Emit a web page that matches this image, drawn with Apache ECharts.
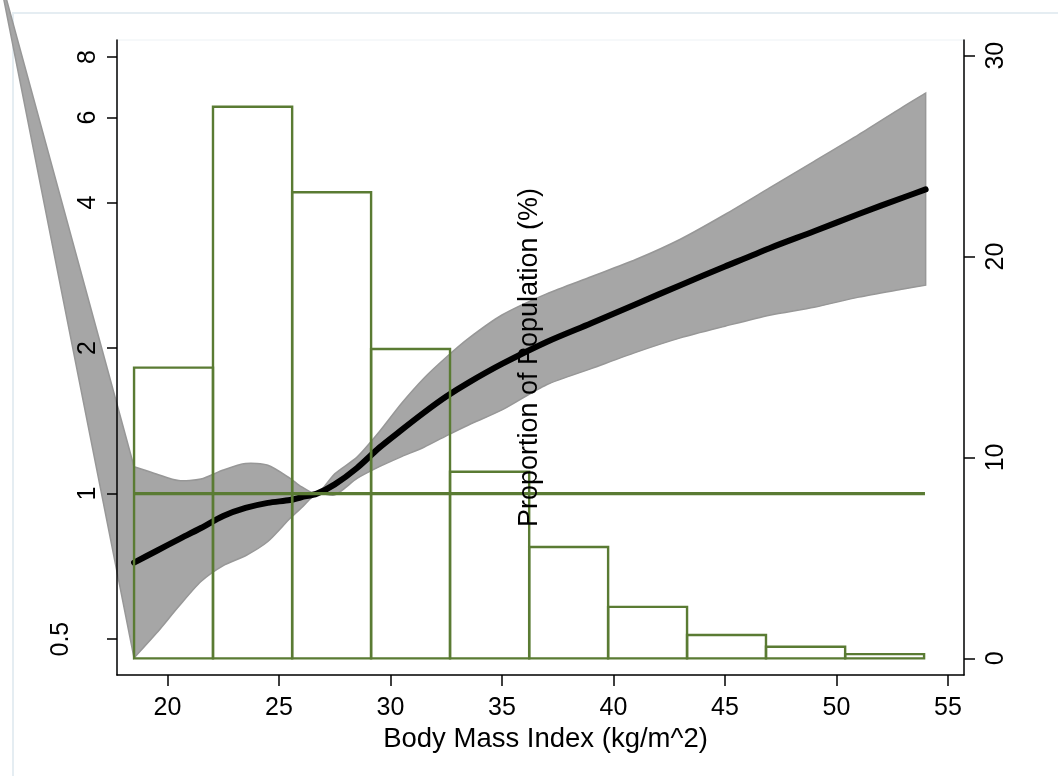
<!DOCTYPE html>
<html>
<head>
<meta charset="utf-8">
<script src="https://cdn.jsdelivr.net/npm/echarts@6/dist/echarts.min.js"></script>
<style>
html,body{margin:0;padding:0;background:#fff;}
#c{width:1058px;height:776px;}
</style>
</head>
<body>
<div id="c"></div>
<script>
// ---------- data ----------
// fitted hazard ratio curve (left, log scale)
const bmi = [18.5, 19.5, 20.5, 21.5, 22.5, 23.5, 24.5, 25.5, 26.0, 26.7, 27.5, 28.5, 29.5, 30.5, 31.5, 32.5, 33.5, 35, 37, 39, 41, 43, 45, 47, 49, 51, 53, 54];
const hr = [0.72, 0.761, 0.804, 0.849, 0.899, 0.934, 0.957, 0.970, 0.983, 1.0, 1.045, 1.13, 1.245, 1.355, 1.471, 1.588, 1.697, 1.855, 2.06, 2.252, 2.466, 2.70, 2.95, 3.22, 3.49, 3.79, 4.10, 4.26];
// confidence band, same BMI points
const ciUpper = [1.137, 1.098, 1.064, 1.072, 1.119, 1.154, 1.145, 1.076, 1.034, 1.0, 1.099, 1.19, 1.343, 1.538, 1.733, 1.915, 2.095, 2.342, 2.59, 2.81, 3.05, 3.36, 3.78, 4.29, 4.87, 5.53, 6.32, 6.74];
const ciLower = [0.457, 0.514, 0.584, 0.658, 0.71, 0.744, 0.796, 0.889, 0.934, 1.0, 0.994, 1.075, 1.137, 1.193, 1.247, 1.317, 1.387, 1.49, 1.68, 1.814, 1.96, 2.10, 2.22, 2.34, 2.43, 2.55, 2.65, 2.70];
// stray off-scale vertex of the original confidence area [BMI, value]
const ciApex = [12.34, 12.5];
// histogram (right axis, % of population)
const binEdges = [18.5, 22.04, 25.59, 29.13, 32.67, 36.22, 39.76, 43.30, 46.84, 50.39, 53.93];
const binPct = [14.47, 27.46, 23.20, 15.40, 9.29, 5.54, 2.56, 1.16, 0.58, 0.21];
// reference line at 1
const refX = [18.5, 53.97];
const refY = [1, 1];
// tick labels
const xTicks = [20, 25, 30, 35, 40, 45, 50, 55];
const leftTicks = [0.5, 1, 2, 4, 6, 8];
const rightTicks = [0, 10, 20, 30];

// ---------- style ----------
const FONT = '"Liberation Sans", Arial, Helvetica, sans-serif';
const GREEN = '#5a7b33';
const BAND = '#a6a6a6';
const BAND_EDGE = '#979797';

const chart = echarts.init(document.getElementById('c'), null, {renderer: 'canvas'});

const axisLineStyle = {color: '#000', width: 1.5};

const option = {
  animation: false,
  backgroundColor: '#ffffff',
  graphic: [{
    type: 'rect', silent: true, z: -10,
    shape: {x: 13, y: 13, width: 1200, height: 1000},
    style: {fill: 'none', stroke: '#e5edf2', lineWidth: 2}
  }],
  grid: {
    left: 117, right: 94, top: 40, bottom: 101,
    containLabel: false, outerBoundsMode: 'none',
    show: true, borderColor: '#edf2f5', borderWidth: 1, backgroundColor: 'transparent'
  },
  xAxis: {
    type: 'value', min: 17.735, max: 55.72, z: 10,
    name: 'Body Mass Index (kg/m^2)', nameLocation: 'middle', nameGap: 64, nameMoveOverlap: false,
    nameTextStyle: {fontFamily: FONT, fontSize: 27.5, color: '#000', verticalAlign: 'middle', padding: [0, 0, 0, 10]},
    axisLine: {show: true, onZero: false, lineStyle: axisLineStyle},
    axisTick: {show: true, length: 11, customValues: xTicks, lineStyle: axisLineStyle},
    axisLabel: {customValues: xTicks, interval: 0, margin: 33, verticalAlign: 'middle', fontSize: 25, color: '#000', fontFamily: FONT},
    splitLine: {show: false}
  },
  yAxis: [{
    type: 'log', logBase: 2, min: 0.4215, max: 8.68, position: 'left', z: 10,
    axisLine: {show: true, onZero: false, lineStyle: axisLineStyle},
    axisTick: {show: true, length: 10, customValues: leftTicks, lineStyle: axisLineStyle},
    axisLabel: {
      customValues: leftTicks, interval: 0, rotate: 90, margin: 29, verticalAlign: 'middle',
      fontSize: 25, color: '#000', fontFamily: FONT,
      formatter: function (v) {
        const r = Math.round(v * 100) / 100;
        return Math.abs(r - 0.5) < 1e-6 ? '{off|0.5}' : String(r);
      },
      rich: {off: {padding: [0, 0, 54, 0], fontSize: 25, color: '#000', fontFamily: FONT}}
    },
    splitLine: {show: false}
  }, {
    type: 'value', min: -0.83, max: 30.78, position: 'right', z: 10,
    name: 'Proportion of Population (%)', nameLocation: 'middle', nameRotate: 90, nameGap: -434, nameMoveOverlap: false,
    nameTextStyle: {fontFamily: FONT, fontSize: 27, color: '#000', verticalAlign: 'middle', align: 'center'},
    axisLine: {show: true, onZero: false, lineStyle: axisLineStyle},
    axisTick: {show: true, length: 11, customValues: rightTicks, lineStyle: axisLineStyle},
    axisLabel: {customValues: rightTicks, interval: 0, rotate: 90, margin: 32, verticalAlign: 'middle', fontSize: 25, color: '#000', fontFamily: FONT},
    splitLine: {show: false}
  }],
  series: [{
    // stray wedge of the confidence area that runs off the plot
    type: 'custom', name: 'CI wedge', xAxisIndex: 0, yAxisIndex: 0, clip: false, silent: true, z: 1,
    data: [[ciApex[0], ciApex[1]]],
    encode: {x: 0, y: 1},
    renderItem: function (params, api) {
      const pts = [
        api.coord([ciApex[0], ciApex[1]]),
        api.coord([bmi[0], ciUpper[0]]),
        api.coord([bmi[0], ciLower[0]])
      ];
      return {type: 'polygon', shape: {points: pts}, style: {fill: BAND, stroke: BAND_EDGE, lineWidth: 1.5}};
    }
  }, {
    // confidence band (end vertices doubled so the smoothed outline keeps square ends)
    type: 'custom', name: '95% CI', xAxisIndex: 0, yAxisIndex: 0, clip: false, silent: true, z: 1,
    data: bmi.map((x, i) => [x, ciLower[i], ciUpper[i]]),
    encode: {x: 0, y: [1, 2]},
    renderItem: function (params, api) {
      if (params.dataIndex !== 0) return {type: 'group', children: []};
      const n = bmi.length;
      const pts = [];
      for (let i = 0; i < n; i++) {
        const p = api.coord([bmi[i], ciUpper[i]]);
        pts.push(p);
        if (i === 0 || i === n - 1) pts.push(p.slice());
      }
      for (let i = n - 1; i >= 0; i--) {
        const p = api.coord([bmi[i], ciLower[i]]);
        pts.push(p);
        if (i === 0 || i === n - 1) pts.push(p.slice());
      }
      return {type: 'polygon', shape: {points: pts, smooth: 0.25},
        style: {fill: BAND, stroke: BAND_EDGE, lineWidth: 1.5}};
    }
  }, {
    type: 'line', name: 'Hazard ratio', xAxisIndex: 0, yAxisIndex: 0, z: 2, silent: true,
    data: bmi.map((x, i) => [x, hr[i]]),
    showSymbol: false, smooth: 0.3,
    lineStyle: {color: '#000', width: 6, cap: 'round', join: 'round'}
  }, {
    type: 'custom', name: 'Proportion', xAxisIndex: 0, yAxisIndex: 1, clip: false, silent: true, z: 3,
    data: binPct.map((p, i) => [binEdges[i], binEdges[i + 1], p]),
    encode: {x: [0, 1], y: 2},
    renderItem: function (params, api) {
      const a = api.coord([api.value(0), api.value(2)]);
      const b = api.coord([api.value(1), 0]);
      return {type: 'rect', shape: {x: a[0], y: a[1], width: b[0] - a[0], height: b[1] - a[1]},
        style: {fill: 'none', stroke: GREEN, lineWidth: 2.4}};
    }
  }, {
    type: 'line', name: 'Reference', xAxisIndex: 0, yAxisIndex: 0, z: 4, silent: true,
    data: refX.map((x, i) => [x, refY[i]]),
    showSymbol: false,
    lineStyle: {color: GREEN, width: 3.2}
  }]
};
chart.setOption(option);
</script>
</body>
</html>
